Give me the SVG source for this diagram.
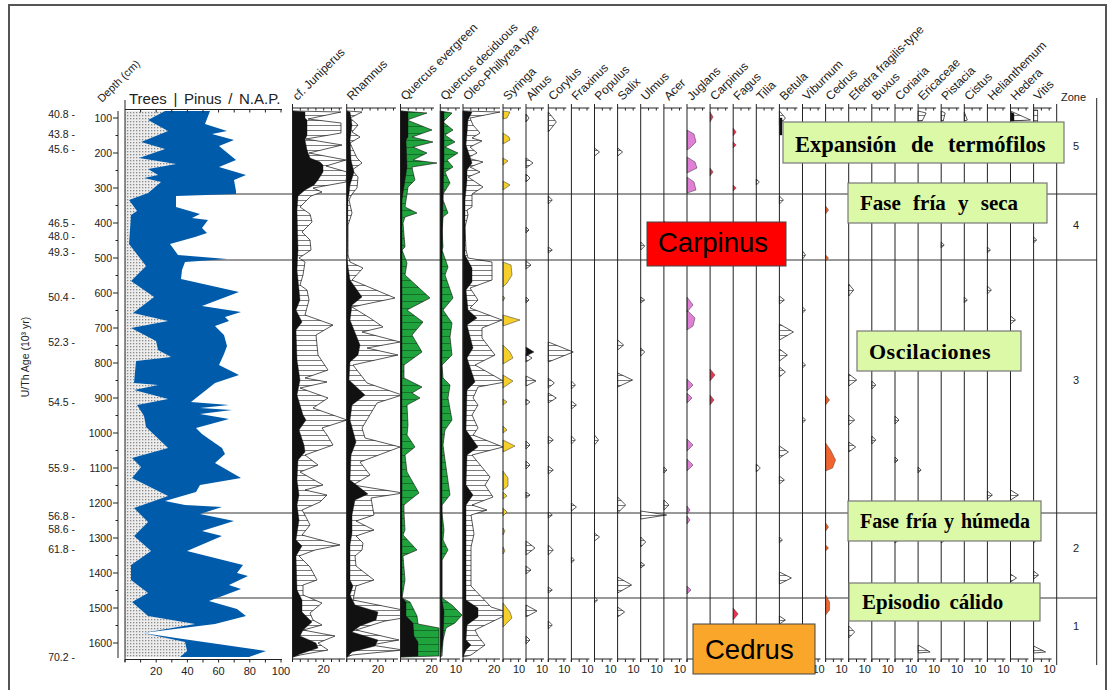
<svg xmlns="http://www.w3.org/2000/svg" width="1111" height="690" viewBox="0 0 1111 690">
<style>
.ax{fill:none;stroke:#222;stroke-width:1}
.zl{fill:none;stroke:#333;stroke-width:1}
.tk{font-family:"Liberation Sans",Arial,sans-serif;font-size:11px;fill:#222;text-anchor:middle}
.sp{font-family:"Liberation Sans",Arial,sans-serif;font-size:12px;fill:#222}
.dl{font-family:"Liberation Sans",Arial,sans-serif;font-size:10.5px;fill:#222;text-anchor:end}
.ex{fill:url(#hat);stroke:#111;stroke-width:0.7;stroke-linejoin:round}
.bk{fill:#111;stroke:#111;stroke-width:0.4}
.gr{fill:url(#hatg);stroke:#111;stroke-width:0.6}
.yl{fill:#f7cf2a;stroke:#333;stroke-width:0.5}
.pk{fill:#e07fd6;stroke:#333;stroke-width:0.5}
.rd{fill:#e8364f;stroke:#333;stroke-width:0.4}
.og{fill:#f0652f;stroke:#333;stroke-width:0.4}
.box{fill:#dcf9a8;stroke:#777;stroke-width:1.2}
.bt{font-family:"Liberation Serif","Times New Roman",serif;font-weight:bold;fill:#000}
.at{font-family:"Liberation Sans",Arial,sans-serif;fill:#000}
</style>
<defs>
<pattern id="dots" width="3" height="3" patternUnits="userSpaceOnUse"><rect width="3" height="3" fill="#ececec"/><rect x="1" y="1" width="1.3" height="1.3" fill="#8a8a8a"/></pattern>
<pattern id="hat" width="6" height="5" patternUnits="userSpaceOnUse"><rect width="6" height="5" fill="#fff"/><path d="M0,0.5H6" stroke="#222" stroke-width="0.6"/></pattern>
<pattern id="hatg" width="6" height="7" patternUnits="userSpaceOnUse"><rect width="6" height="7" fill="#1fa33c"/><path d="M0,0.5H6" stroke="#0d4a1d" stroke-width="0.6"/></pattern>
<g id="c10"><path class="ax" d="M0,104V662M0,108H18M7.8,108v2.5M15.6,108v2.5M0,659H18M0,659v3M7.8,659v3M15.6,659v3"/><text class="tk" x="16" y="673">10</text></g>
</defs>
<rect width="1111" height="690" fill="#fff"/>
<path d="M9,690V5H1106V690" fill="none" stroke="#555" stroke-width="2"/>

<g id="zone-lines">
<path class="zl" d="M150,194H1097M150,260H1097M150,513H1097M150,598H1097"/>
</g>

<g id="pinus-column">
<polygon fill="url(#dots)" points="125,111 165,111 148,120 168,131 141,142 165,149 139,158 176,164 148,169 158,175 144,178 161,182 148,193 129,200 137,211 131,215 129,244 146,266 131,281 154,297 133,313 168,321 131,328 156,341 158,350 171,357 136,361 134,383 158,385 134,390 168,399 137,405 144,416 146,427 168,448 132,458 141,467 132,478 168,496 134,508 148,522 134,536 151,551 131,565 131,580 148,593 132,602 148,616 195,624 143,633 185,642 187,651 180,657 125,657"/>
<polygon fill="#005baa" points="165,111 148,120 168,131 141,142 165,149 139,158 176,164 148,169 158,175 144,178 161,182 148,193 129,200 137,211 131,215 129,244 146,266 131,281 154,297 133,313 168,321 131,328 156,341 158,350 171,357 136,361 134,383 158,385 134,390 168,399 137,405 144,416 146,427 168,448 132,458 141,467 132,478 168,496 134,508 148,522 134,536 151,551 131,565 131,580 148,593 132,602 148,616 195,624 143,633 185,642 187,651 180,657 249,657 266,651 176,638 143,633 215,624 246,616 237,609 209,601 241,589 229,585 248,576 237,573 243,565 187,551 222,536 202,531 234,521 200,514 222,507 185,505 165,501 196,492 200,485 241,478 215,463 225,454 222,448 209,439 202,434 196,428 229,419 200,414 232,410 200,408 229,405 191,402 215,383 239,375 219,365 224,354 227,346 224,335 215,326 229,321 225,317 241,312 202,306 239,292 181,279 182,270 185,262 227,259 178,255 170,244 195,237 207,233 202,228 208,220 192,218 200,214 176,207 176,196 236,194 236,191 234,180 246,175 219,167 236,160 219,146 234,140 212,134 227,131 205,124 210,111"/>
<path class="ax" d="M125,100V662M125,109.5H282M140.6,109.5v3M156.2,109.5v3M171.8,109.5v3M187.4,109.5v3M203,109.5v3M218.6,109.5v3M234.2,109.5v3M249.8,109.5v3M265.4,109.5v3M281,109.5v3M125,659.5H282M125,659.5v3M140.6,659.5v3M156.2,659.5v3M171.8,659.5v3M187.4,659.5v3M203,659.5v3M218.6,659.5v3M234.2,659.5v3M249.8,659.5v3M265.4,659.5v3M281,659.5v3"/>
<text class="tk" x="156.2" y="675">20</text><text class="tk" x="187.4" y="675">40</text><text class="tk" x="218.6" y="675">60</text><text class="tk" x="249.8" y="675">80</text><text class="tk" x="281" y="675">100</text>
<text x="129" y="104" style="font-family:'Liberation Sans',Arial,sans-serif;font-size:15px;word-spacing:2.5px;fill:#222">Trees | Pinus / N.A.P.</text>
</g>

<g id="depth-axis">
<path class="ax" d="M118,111V658M113,118H118M113,153H118M113,188H118M113,223H118M113,258H118M113,293H118M113,328H118M113,363H118M113,398H118M113,433H118M113,468H118M113,503H118M113,538H118M113,573H118M113,608H118M113,643H118M115.5,135.5H118M115.5,170.5H118M115.5,205.5H118M115.5,240.5H118M115.5,275.5H118M115.5,310.5H118M115.5,345.5H118M115.5,380.5H118M115.5,415.5H118M115.5,450.5H118M115.5,485.5H118M115.5,520.5H118M115.5,555.5H118M115.5,590.5H118M115.5,625.5H118"/>
<text class="dl" x="112" y="121.5">100</text><text class="dl" x="112" y="156.5">200</text><text class="dl" x="112" y="191.5">300</text><text class="dl" x="112" y="226.5">400</text><text class="dl" x="112" y="261.5">500</text><text class="dl" x="112" y="296.5">600</text><text class="dl" x="112" y="331.5">700</text><text class="dl" x="112" y="366.5">800</text><text class="dl" x="112" y="401.5">900</text><text class="dl" x="112" y="436.5">1000</text><text class="dl" x="112" y="471.5">1100</text><text class="dl" x="112" y="506.5">1200</text><text class="dl" x="112" y="541.5">1300</text><text class="dl" x="112" y="576.5">1400</text><text class="dl" x="112" y="611.5">1500</text><text class="dl" x="112" y="646.5">1600</text>
<text transform="translate(102,103) rotate(-45)" style="font-family:'Liberation Sans',Arial,sans-serif;font-size:11px;fill:#222">Depth (cm)</text>
</g>

<g id="age-axis">
<text class="dl" x="75" y="117.5">40.8 -</text><text class="dl" x="75" y="137.5">43.8 -</text><text class="dl" x="75" y="152.5">45.6 -</text><text class="dl" x="75" y="226.5">46.5 -</text><text class="dl" x="75" y="239.5">48.0 -</text><text class="dl" x="75" y="255.5">49.3 -</text><text class="dl" x="75" y="300.5">50.4 -</text><text class="dl" x="75" y="345.5">52.3 -</text><text class="dl" x="75" y="405.5">54.5 -</text><text class="dl" x="75" y="471.5">55.9 -</text><text class="dl" x="75" y="519.5">56.8 -</text><text class="dl" x="75" y="532.5">58.6 -</text><text class="dl" x="75" y="552.5">61.8 -</text><text class="dl" x="75" y="660.5">70.2 -</text>
<text transform="translate(29,357) rotate(-90)" style="font-family:'Liberation Sans',Arial,sans-serif;font-size:10.5px;fill:#222;text-anchor:middle">U/Th Age (10³ yr)</text>
</g>

<g id="juniperus">
<polygon class="ex" points="293,111 341,112 308,119 341,123 341,133 306,139 342,145 309,153 346,160 326,166 347,172 346,182 313,188 322,192 311,196 300,207 310,214 312,222 302,232 310,240 311,250 299,258 305,262 303,275 300,285 307,290 309,300 305,315 333,325 316,335 318,355 328,370 305,378 327,382 300,388 328,398 313,408 347,420 322,428 327,435 333,445 305,455 318,465 300,472 323,485 305,490 327,495 320,502 302,510 306,517 310,525 302,535 313,538 340,545 315,550 299,556 310,567 317,580 303,585 303,595 322,603 310,613 313,620 322,625 303,630 335,636 318,643 328,650 300,655 293,657"/>
<polygon class="bk" points="293,111 305,112 305,118 307,120 307,135 305,140 307,150 310,158 320,162 323,165 323,172 318,180 314,185 305,190 298,196 297,210 298,250 297,270 300,300 296,310 302,322 296,330 297,360 300,380 297,395 303,415 306,420 299,430 304,445 305,452 298,460 297,480 299,495 297,505 299,520 296,540 302,546 296,556 297,590 302,600 302,612 312,622 303,630 300,636 316,643 318,648 300,654 293,657"/>
<path class="ax" d="M292.5,104V662M292.5,108H342M300.3,108v2.5M308.1,108v2.5M315.9,108v2.5M323.7,108v2.5M331.5,108v2.5M339.3,108v2.5M292.5,659H345M292.5,659v3M300.3,659v3M308.1,659v3M315.9,659v3M323.7,659v3M331.5,659v3M339.3,659v3"/>
<text class="tk" x="323.7" y="673">20</text>
</g>

<g id="rhamnus">
<polygon class="ex" points="347,111 362,112 350,118 358,125 352,132 360,137 350,143 357,158 362,163 352,170 358,177 357,188 352,194 349,200 352,213 348,225 348,255 350,262 363,268 352,280 395,298 352,307 370,318 383,327 362,332 400,342 367,348 398,355 353,365 367,383 402,395 377,403 362,428 365,438 400,447 360,462 370,475 353,485 403,493 371,498 374,515 356,521 374,530 356,536 363,543 362,550 355,556 356,566 374,580 356,586 353,600 403,610 403,618 385,621 356,630 399,640 371,645 403,650 352,655 347,657"/>
<polygon class="bk" points="347,111 350,112 352,125 350,140 351,160 354,172 350,185 349,194 348,200 347,260 350,280 362,297 352,305 350,320 356,335 360,345 358,355 350,362 349,380 365,395 352,405 350,420 356,442 351,455 350,480 368,494 355,500 352,515 352,533 350,545 350,580 353,586 350,595 355,605 378,612 376,620 360,626 352,632 378,640 375,646 352,652 347,657"/>
<path class="ax" d="M346.7,104V662M346.7,108H396M354.5,108v2.5M362.3,108v2.5M370.1,108v2.5M377.9,108v2.5M385.7,108v2.5M393.5,108v2.5M346.7,659H398M346.7,659v3M354.5,659v3M362.3,659v3M370.1,659v3M377.9,659v3M385.7,659v3M393.5,659v3"/>
<text class="tk" x="377.9" y="673">20</text>
</g>

<g id="quercus-evergreen">
<polygon class="gr" points="401,111 427,113 407,120 432,130 412,137 433,142 413,147 427,153 413,160 437,163 412,167 413,172 415,180 408,187 407,194 405,207 417,213 405,217 403,223 405,247 402,250 407,263 405,275 430,298 407,310 423,322 412,335 422,352 404,365 404,378 422,387 412,393 420,398 407,405 408,425 407,435 415,447 405,455 407,472 419,493 410,500 404,505 404,513 405,530 403,535 417,550 403,556 405,580 402,598 410,602 417,616 418,624 439,628 439,656 401,657"/>
<polygon class="bk" points="401,111 408,112 408,137 406,140 407,167 405,180 403,193 402,200 402,598 406,602 406,616 413,623 414,636 418,642 418,656 401,657"/>
<path class="ax" d="M400.5,104V662M400.5,108H434M408.3,108v2.5M416.1,108v2.5M423.9,108v2.5M431.7,108v2.5M400.5,659H437M400.5,659v3M408.3,659v3M416.1,659v3M423.9,659v3M431.7,659v3"/>
<text class="tk" x="431.7" y="673">20</text>
</g>

<g id="quercus-deciduous">
<polygon class="gr" points="440.3,111 452,113 443,122 453,130 445,135 455,142 445,147 458,153 447,160 453,167 445,172 450,183 443,194 443,200 448,213 443,217 442,230 443,247 442,250 448,267 445,275 453,298 443,310 452,323 450,337 452,355 442,365 443,378 450,385 448,398 452,420 445,430 443,445 445,460 450,495 442,505 442,513 444,530 443,540 448,550 442,560 442,598 452,605 462,615 455,623 446,628 443,640 442,656 440.3,657"/>
<polygon class="bk" points="440.3,111 444,112 444,160 443,200 442,260 442,600 444,612 443,640 440.3,657"/>
<path class="ax" d="M440.3,104V662M440.3,108H460M448.1,108v2.5M455.9,108v2.5M440.3,659H460M440.3,659v3M448.1,659v3M455.9,659v3"/>
<text class="tk" x="455.9" y="673">10</text>
</g>

<g id="oleo-phillyrea">
<polygon class="ex" points="463,111 500,112 470,118 473,125 480,133 472,138 482,141 470,147 477,153 467,158 483,162 470,167 480,172 468,177 483,187 472,194 472,207 467,210 468,215 465,227 466,250 468,258 492,262 492,280 470,288 478,300 470,308 502,320 482,328 482,338 495,355 475,365 505,382 478,387 473,398 478,405 472,415 478,428 473,435 503,447 472,455 490,477 485,485 493,497 472,505 487,510 471,515 474,534 471,547 471,566 471,586 491,607 510,613 475,630 478,636 485,645 471,655 463,657"/>
<polygon class="bk" points="463,111 472,112 468,120 467,133 466,145 472,163 467,170 467,180 465,200 465,255 472,268 472,282 466,290 468,310 477,318 467,325 473,348 467,358 475,382 467,390 466,430 478,447 467,455 466,485 473,495 466,505 466,600 478,608 478,617 467,625 466,640 471,645 466,650 463,657"/>
<path class="ax" d="M463,104V662M463,108H500M470.8,108v2.5M478.6,108v2.5M486.4,108v2.5M494.2,108v2.5M463,659H500M463,659v3M470.8,659v3M478.6,659v3M486.4,659v3M494.2,659v3"/>
<text class="tk" x="494.2" y="673">20</text>
</g>

<g id="syringa">
<path class="yl" d="M503,111L510,112L507,118L503,119ZM503,133L509,137L510,140L503,144ZM503,158L508,161L503,165ZM503,181L510,185L503,190ZM503,262L511,265L512,275L507,283L503,287ZM503,296L505,298L503,301ZM503,315L520,320L503,326ZM503,345L510,352L513,358L503,364ZM503,375L513,381L503,388ZM503,399L507,402L503,405ZM503,426L507,430L503,433ZM503,440L515,446L503,452ZM503,471L508,478L508,486L503,490ZM503,492L507,496L503,499ZM503,508L507,512L503,516ZM503,528L505,531L503,535ZM503,547L505,551L503,554ZM503,603L510,612L512,618L506,624L503,627Z"/>
<use href="#c10" x="503"/>
</g>

<g id="alnus">
<path class="ex" d="M526,114L529,118L526,122ZM526,158L533,163L526,168ZM526,174L530,178L526,182ZM526,227L529,230L526,233ZM526,261L531,265L526,269ZM526,297L529,300L526,303ZM526,354L532,358L526,362ZM526,376L536,381L526,386ZM526,399L530,402L526,405ZM526,441L530,445L526,449ZM526,461L530,465L526,469ZM526,492L530,495L526,498ZM526,541L535,548L526,555ZM526,566L531,570L526,574ZM526,605L537,611L526,617ZM526,636L530,640L526,644Z"/>
<path class="bk" d="M526,347L534,352L526,356Z"/>
<use href="#c10" x="526"/>
</g>

<g id="corylus">
<path class="ex" d="M548.3,112L556.3,122L548.3,132ZM548.3,196L552.3,200L548.3,204ZM548.3,247L552.3,250L548.3,253ZM548.3,342L573.3,352L548.3,362ZM548.3,378L554.3,383L548.3,388ZM548.3,393L556.3,398L548.3,403ZM548.3,436L553.3,440L548.3,444ZM548.3,466L553.3,470L548.3,474ZM548.3,512L552.3,515L548.3,518ZM548.3,545L553.3,550L548.3,555ZM548.3,587L552.3,590L548.3,593ZM548.3,621L552.3,625L548.3,629Z"/>
<use href="#c10" x="548.3"/>
</g>
<g id="fraxinus">
<path class="ex" d="M571.4,381L575.4,385L571.4,389ZM571.4,401L576.4,405L571.4,409ZM571.4,436L575.4,440L571.4,444ZM571.4,503L576.4,507L571.4,511ZM571.4,557L574.4,560L571.4,563Z"/>
<use href="#c10" x="571.4"/>
</g>
<g id="populus">
<path class="ex" d="M594.5,148L599.5,152L594.5,156ZM594.5,435L598.5,440L594.5,445ZM594.5,533L599.5,537L594.5,541ZM594.5,597L597.5,600L594.5,603Z"/>
<use href="#c10" x="594.5"/>
</g>
<g id="salix">
<path class="ex" d="M617.6,148L622.6,152L617.6,156ZM617.6,340L623.6,345L617.6,350ZM617.6,373L632.6,380L617.6,387ZM617.6,497L625.6,505L617.6,513ZM617.6,577L631.6,585L617.6,593ZM617.6,607L624.6,612L617.6,617Z"/>
<use href="#c10" x="617.6"/>
</g>
<g id="ulmus">
<path class="ex" d="M640.7,242L644.7,246L640.7,250ZM640.7,297L644.7,300L640.7,303ZM640.7,348L644.7,352L640.7,356ZM640.7,511L666.7,515L640.7,519ZM640.7,537L645.7,542L640.7,547ZM640.7,562L644.7,565L640.7,568Z"/>
<use href="#c10" x="640.7"/>
</g>
<g id="acer">
<path class="ex" d="M663.9,221L667.9,225L663.9,229ZM663.9,467L666.9,470L663.9,473ZM663.9,500L668.9,505L663.9,510Z"/>
<use href="#c10" x="663.9"/>
</g>
<g id="juglans">
<path class="pk" d="M687,130L694,134L696,142L690,148L687,150ZM687,157L695,162L697,168L687,173ZM687,177L694,182L696,190L687,193ZM687,297L693,305L687,312ZM687,310L695,318L693,326L687,330ZM687,379L693,385L687,391ZM687,393L692,398L687,403ZM687,439L693,445L687,451ZM687,459L693,465L687,471ZM687,506L690,510L687,514ZM687,516L690,520L687,524ZM687,586L691,590L687,594Z"/>
<use href="#c10" x="687"/>
</g>
<g id="carpinus">
<path class="rd" d="M710.1,112L713.1,117L710.1,122ZM710.1,168L713.1,172L710.1,176ZM710.1,369L715.1,375L710.1,381ZM710.1,395L714.1,400L710.1,405Z"/>
<use href="#c10" x="710.1"/>
</g>
<g id="fagus">
<path class="rd" d="M733.2,128L736.2,132L733.2,136ZM733.2,142L736.2,145L733.2,148ZM733.2,185L736.2,188L733.2,191ZM733.2,608L738.2,614L733.2,620Z"/>
<use href="#c10" x="733.2"/>
</g>
<g id="tilia">
<path class="ex" d="M756.3,179L759.3,182L756.3,185ZM756.3,464L760.3,468L756.3,472Z"/>
<use href="#c10" x="756.3"/>
</g>
<g id="betula">
<path class="ex" d="M779.4,111L785.4,118L779.4,125ZM779.4,196L783.4,200L779.4,204ZM779.4,247L782.4,250L779.4,253ZM779.4,296L784.4,300L779.4,304ZM779.4,324L793.4,332L779.4,340ZM779.4,349L787.4,355L779.4,361ZM779.4,367L785.4,372L779.4,377ZM779.4,446L788.4,452L779.4,458ZM779.4,476L784.4,480L779.4,484ZM779.4,537L782.4,540L779.4,543ZM779.4,572L791.4,578L779.4,584ZM779.4,616L785.4,620L779.4,624Z"/>
<path class="bk" d="M779.4,118H782V135H779.4Z"/>
<use href="#c10" x="779.4"/>
</g>
<g id="viburnum">
<path class="ex" d="M802.5,251L805.5,255L802.5,259ZM802.5,307L805.5,310L802.5,313ZM802.5,362L805.5,365L802.5,368ZM802.5,417L805.5,420L802.5,423Z"/>
<use href="#c10" x="802.5"/>
</g>
<g id="cedrus">
<path class="og" d="M825.6,206L828.6,210L825.6,214ZM825.6,255L828.6,258L825.6,261ZM825.6,395L829.6,400L825.6,405ZM825.6,443L830.6,450L835.6,460L832.6,468L825.6,471ZM825.6,523L828.6,527L825.6,531ZM825.6,545L828.6,548L825.6,551ZM825.6,595L829.6,602L829.6,610L825.6,615Z"/>
<use href="#c10" x="825.6"/>
</g>
<g id="efedra">
<path class="ex" d="M848.7,206L852.7,210L848.7,214ZM848.7,284L853.7,290L848.7,296ZM848.7,374L856.7,380L848.7,386ZM848.7,415L854.7,420L848.7,425ZM848.7,442L855.7,447L848.7,452ZM848.7,506L852.7,510L848.7,514ZM848.7,626L854.7,632L848.7,638Z"/>
<use href="#c10" x="848.7"/>
</g>
<g id="buxus">
<path class="ex" d="M871.8,197L874.8,200L871.8,203ZM871.8,381L875.8,385L871.8,389ZM871.8,436L875.8,440L871.8,444ZM871.8,521L875.8,525L871.8,529Z"/>
<use href="#c10" x="871.8"/>
</g>
<g id="coriaria">
<path class="ex" d="M895,192L898,195L895,198ZM895,416L899,420L895,424ZM895,457L898,460L895,463ZM895,537L899,540L895,543Z"/>
<use href="#c10" x="895"/>
</g>
<g id="ericaceae">
<path class="ex" d="M918.1,111L926.1,113L922.1,121L918.1,121ZM918.1,341L922.1,345L918.1,349ZM918.1,467L921.1,470L918.1,473ZM918.1,521L923.1,525L918.1,529ZM918.1,645L930.1,652L918.1,653Z"/>
<use href="#c10" x="918.1"/>
</g>
<g id="pistacia">
<path class="ex" d="M941.2,111L945.2,113L943.2,121L941.2,121ZM941.2,242L944.2,245L941.2,248ZM941.2,521L945.2,525L941.2,529ZM941.2,537L945.2,540L941.2,543Z"/>
<use href="#c10" x="941.2"/>
</g>
<g id="cistus">
<path class="ex" d="M964.3,112L967.3,120L964.3,121ZM964.3,297L967.3,300L964.3,303ZM964.3,518L968.3,522L964.3,526ZM964.3,597L967.3,600L964.3,603Z"/>
<use href="#c10" x="964.3"/>
</g>
<g id="helianthemum">
<path class="ex" d="M987.4,247L990.4,250L987.4,253ZM987.4,286L991.4,290L987.4,294ZM987.4,491L992.4,495L987.4,499ZM987.4,527L990.4,530L987.4,533ZM987.4,607L990.4,610L987.4,613Z"/>
<use href="#c10" x="987.4"/>
</g>
<g id="hedera">
<path class="ex" d="M1010.5,111L1030.5,120L1010.5,121ZM1010.5,316L1015.5,320L1010.5,324ZM1010.5,490L1018.5,495L1010.5,500ZM1010.5,574L1016.5,578L1010.5,582Z"/>
<path class="bk" d="M1010.5,112L1014,113.5L1014,121L1010.5,121Z"/>
<use href="#c10" x="1010.5"/>
</g>
<g id="vitis">
<path class="ex" d="M1033.6,110L1037.6,110L1037.6,122L1033.6,122ZM1033.6,237L1036.6,240L1033.6,243ZM1033.6,537L1036.6,540L1033.6,543ZM1033.6,571L1038.6,575L1033.6,579ZM1033.6,601L1037.6,605L1033.6,609ZM1033.6,646L1045.6,652L1033.6,653Z"/>
<use href="#c10" x="1033.6"/>
</g>

<g id="zone-column">
<path class="ax" d="M1056.7,104V665M1096.7,98V665"/>
<text x="1061" y="101" style="font-family:'Liberation Sans',Arial,sans-serif;font-size:11px;fill:#222">Zone</text>
<text class="tk" x="1076" y="150">5</text><text class="tk" x="1076" y="229">4</text><text class="tk" x="1076" y="384">3</text><text class="tk" x="1076" y="552">2</text><text class="tk" x="1076" y="630">1</text>
</g>

<g id="taxa-labels" class="sp">
<text transform="translate(297.5,101) rotate(-45)">cf. Juniperus</text>
<text transform="translate(351.7,101) rotate(-45)">Rhamnus</text>
<text transform="translate(405.5,101) rotate(-45)">Quercus evergreen</text>
<text transform="translate(445.3,101) rotate(-45)">Quercus deciduous</text>
<text transform="translate(468,101) rotate(-45)">Oleo-Phillyrea type</text>
<text transform="translate(508,101) rotate(-45)">Syringa</text>
<text transform="translate(531,101) rotate(-45)">Alnus</text>
<text transform="translate(553.3,101) rotate(-45)">Corylus</text>
<text transform="translate(576.4,101) rotate(-45)">Fraxinus</text>
<text transform="translate(599.5,101) rotate(-45)">Populus</text>
<text transform="translate(622.6,101) rotate(-45)">Salix</text>
<text transform="translate(645.7,101) rotate(-45)">Ulmus</text>
<text transform="translate(668.9,101) rotate(-45)">Acer</text>
<text transform="translate(692,101) rotate(-45)">Juglans</text>
<text transform="translate(715.1,101) rotate(-45)">Carpinus</text>
<text transform="translate(738.2,101) rotate(-45)">Fagus</text>
<text transform="translate(761.3,101) rotate(-45)">Tilia</text>
<text transform="translate(784.4,101) rotate(-45)">Betula</text>
<text transform="translate(807.5,101) rotate(-45)">Viburnum</text>
<text transform="translate(830.6,101) rotate(-45)">Cedrus</text>
<text transform="translate(853.7,101) rotate(-45)">Efedra fragilis-type</text>
<text transform="translate(876.8,101) rotate(-45)">Buxus</text>
<text transform="translate(900,101) rotate(-45)">Coriaria</text>
<text transform="translate(923.1,101) rotate(-45)">Ericaceae</text>
<text transform="translate(946.2,101) rotate(-45)">Pistacia</text>
<text transform="translate(969.3,101) rotate(-45)">Cistus</text>
<text transform="translate(992.4,101) rotate(-45)">Helianthemum</text>
<text transform="translate(1015.5,101) rotate(-45)">Hedera</text>
<text transform="translate(1038.6,101) rotate(-45)">Vitis</text>
</g>

<g id="label-expansion">
<rect class="box" x="783" y="122" width="281" height="41"/>
<text class="bt" x="795" y="152" style="font-size:22.5px;word-spacing:9px">Expansión de termófilos</text>
</g>
<g id="label-fase-seca">
<rect class="box" x="848" y="183" width="199" height="40"/>
<text class="bt" x="860" y="210" style="font-size:21px;word-spacing:7px">Fase fría y seca</text>
</g>
<g id="label-carpinus">
<rect x="647" y="222" width="139" height="44" fill="#ff0000" stroke="#444" stroke-width="1"/>
<text class="at" x="658" y="252" style="font-size:27.5px">Carpinus</text>
</g>
<g id="label-oscilaciones">
<rect class="box" x="857" y="331" width="164" height="40"/>
<text class="bt" x="869" y="359" style="font-size:22px;letter-spacing:0.5px">Oscilaciones</text>
</g>
<g id="label-fase-humeda">
<rect class="box" x="848" y="501" width="193" height="40"/>
<text class="bt" x="860" y="528" style="font-size:20px;word-spacing:2px">Fase fría y húmeda</text>
</g>
<g id="label-episodio">
<rect class="box" x="849" y="583" width="191" height="38"/>
<text class="bt" x="862" y="609" style="font-size:21px;word-spacing:4px">Episodio cálido</text>
</g>
<g id="label-cedrus">
<rect x="693" y="624" width="122" height="50" fill="#f9a62a" stroke="#444" stroke-width="1"/>
<text class="at" x="705" y="659" style="font-size:27.5px">Cedrus</text>
</g>
</svg>
